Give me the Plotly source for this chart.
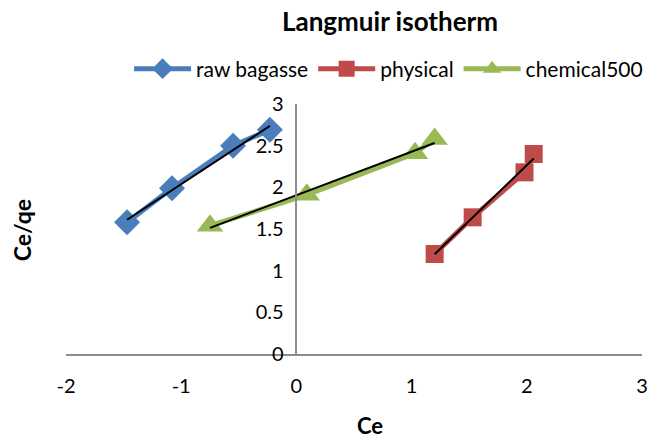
import numpy as np
import plotly.graph_objects as go

raw_x = [-1.47, -1.08, -0.55, -0.23]
raw_y = [1.58, 1.99, 2.50, 2.69]
phys_x = [1.20, 1.53, 1.98, 2.06]
phys_y = [1.20, 1.64, 2.18, 2.40]
chem_x = [-0.75, 0.09, 1.03, 1.20]
chem_y = [1.54, 1.91, 2.41, 2.58]
x_ticks = [-2, -1, 0, 1, 2, 3]
x_labels = ["-2", "-1", "0", "1", "2", "3"]
y_ticks = [0, 0.5, 1, 1.5, 2, 2.5, 3]
y_labels = ["0", "0.5", "1", "1.5", "2", "2.5", "3"]

series = [
    ("raw bagasse", raw_x, raw_y, "#4A7EBB", "diamond", 20),
    ("physical", phys_x, phys_y, "#BE4B48", "square", 18),
    ("chemical500", chem_x, chem_y, "#98B954", "triangle-up", 23),
]

font = "Lato, 'Open Sans', sans-serif"
fig = go.Figure()
for name, xs, ys, col, sym, sz in series:
    fig.add_trace(go.Scatter(x=xs, y=ys, name=name, mode="lines+markers",
                             line=dict(color=col, width=5),
                             marker=dict(symbol=sym, size=sz, color=col)))
for name, xs, ys, col, sym, sz in series:
    m, c = np.polyfit(xs, ys, 1)
    xe = [min(xs), max(xs)]
    fig.add_trace(go.Scatter(x=xe, y=[m * v + c for v in xe], mode="lines",
                             line=dict(color="black", width=2), showlegend=False,
                             hoverinfo="skip"))

fig.update_layout(
    width=649, height=439,
    margin=dict(l=66, r=7, t=104, b=85, autoexpand=False),
    paper_bgcolor="white", plot_bgcolor="white",
    font=dict(family=font, size=20, color="black"),
    showlegend=True,
    legend=dict(orientation="h", x=0.56, xanchor="center", y=1.14, yanchor="middle",
                font=dict(size=21), itemwidth=57, tracegroupgap=0),
    xaxis=dict(range=[-2, 3], tickvals=x_ticks, ticktext=x_labels, showgrid=False,
               zeroline=False, showline=True, linecolor="#8C8C8C", linewidth=1.5,
               ticks="", ticklabelstandoff=13, tickfont=dict(size=20), automargin=False),
    yaxis=dict(range=[0, 3], tickvals=y_ticks, ticktext=y_labels,
               showgrid=False, zeroline=False, showline=True, linecolor="#8C8C8C",
               linewidth=1.5, anchor="free", position=0.4, ticks="",
               ticklabelstandoff=8, tickfont=dict(size=20), automargin=False),
    annotations=[
        dict(text="<b>Langmuir isotherm</b>", xref="paper", yref="paper", x=0.5625, y=1.33,
             yanchor="middle", showarrow=False, font=dict(size=26)),
        dict(text="<b>Ce</b>", xref="paper", yref="paper", x=0.528, y=-0.285,
             yanchor="middle", showarrow=False, font=dict(size=22)),
        dict(text="<b>Ce/qe</b>", xref="paper", yref="paper", x=-0.076, y=0.496,
             xanchor="center", yanchor="middle", textangle=-90, showarrow=False,
             font=dict(size=23)),
    ],
)
fig.write_html("out.html")
